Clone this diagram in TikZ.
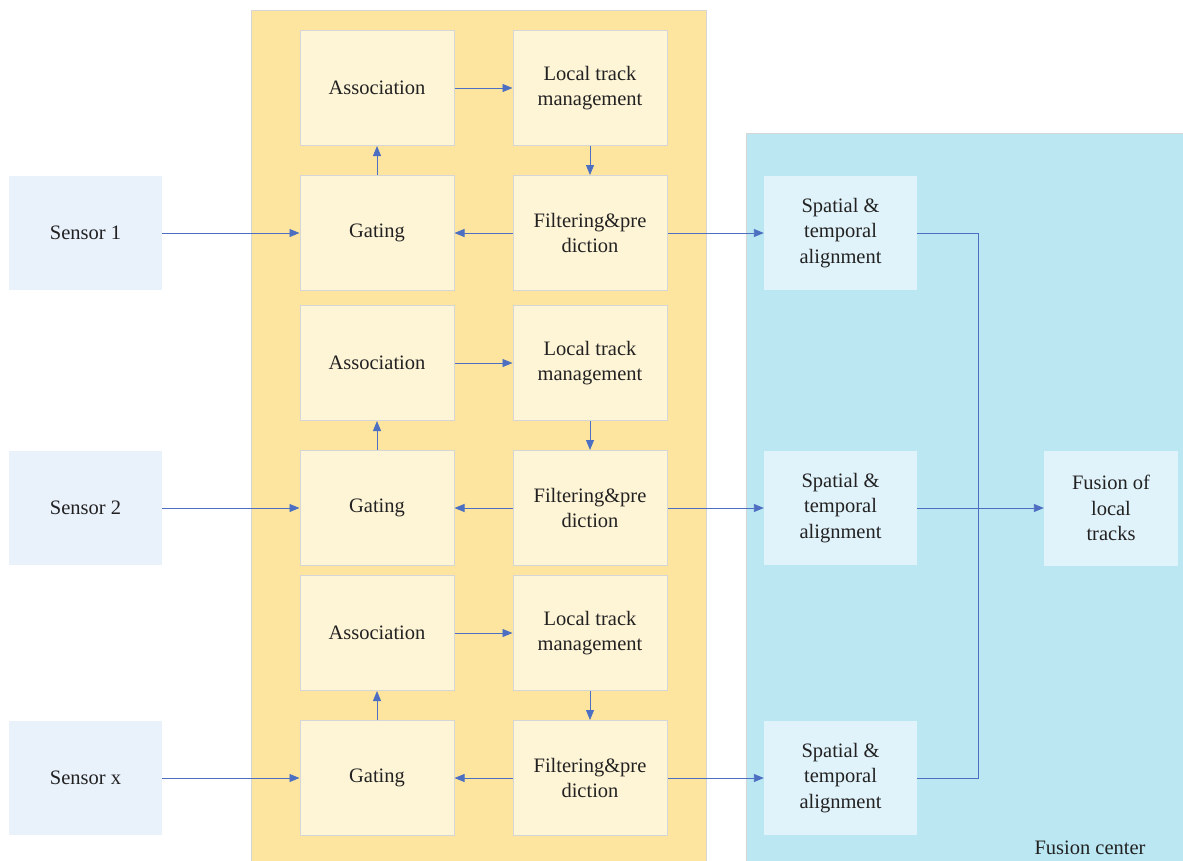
\documentclass[tikz,border=0pt]{standalone}
\usepackage{fontspec}
\setmainfont{Liberation Serif}
\usetikzlibrary{arrows.meta}
\definecolor{panelY}{HTML}{FDE59F}
\definecolor{panelB}{HTML}{BAE7F2}
\definecolor{boxY}{HTML}{FEF4D6}
\definecolor{boxB}{HTML}{E1F3FA}
\definecolor{boxS}{HTML}{E9F1FB}
\definecolor{edge}{HTML}{D6D6D6}
\definecolor{flow}{HTML}{4C6FC2}
\definecolor{ink}{HTML}{222222}
\begin{document}
\begin{tikzpicture}[x=1pt,y=-1pt,
  every node/.style={font=\fontsize{20.5}{25.5}\selectfont, text=ink, align=center, inner sep=0pt},
  panel/.style={draw=edge, line width=1pt},
  ybox/.style={draw=edge, line width=1pt, fill=boxY, minimum width=154pt, minimum height=115pt},
  bbox/.style={fill=boxB, minimum width=153pt, minimum height=114pt},
  sbox/.style={fill=boxS, minimum width=153pt, minimum height=114pt},
  link/.style={draw=flow, line width=0.9pt, -{Triangle[length=10pt,width=8pt]}},
  wire/.style={draw=flow, line width=0.9pt}]
\useasboundingbox (0,0) rectangle (1183,860);
% background panels
\draw[panel, fill=panelY] (251,10) rectangle (706,866);
\draw[panel, fill=panelB] (746,133) rectangle (1190,866);
% sensors
\node[sbox] (s1) at (85.5,233) {Sensor 1};
\node[sbox] (s2) at (85.5,508) {Sensor 2};
\node[sbox] (s3) at (85.5,778) {Sensor x};
% local tracker blocks
\node[ybox] (a1) at (377,88) {Association};
\node[ybox] (l1) at (590,88) {Local track\\management};
\node[ybox] (g1) at (377,233) {Gating};
\node[ybox] (f1) at (590,233) {Filtering\&pre\\diction};
\node[ybox] (a2) at (377,363) {Association};
\node[ybox] (l2) at (590,363) {Local track\\management};
\node[ybox] (g2) at (377,508) {Gating};
\node[ybox] (f2) at (590,508) {Filtering\&pre\\diction};
\node[ybox] (a3) at (377,633) {Association};
\node[ybox] (l3) at (590,633) {Local track\\management};
\node[ybox] (g3) at (377,778) {Gating};
\node[ybox] (f3) at (590,778) {Filtering\&pre\\diction};
% fusion center blocks
\node[bbox] (t1) at (840.5,233) {Spatial \&\\temporal\\alignment};
\node[bbox] (t2) at (840.5,508) {Spatial \&\\temporal\\alignment};
\node[bbox] (t3) at (840.5,778) {Spatial \&\\temporal\\alignment};
\node[bbox, minimum width=134pt, minimum height=115pt] (fu) at (1111,508) {Fusion of\\local\\tracks};
\node (fc) at (1090,848) {Fusion center};
% connectors
\foreach \i in {1,2,3}{
  \draw[link] (s\i) -- (g\i);
  \draw[link] (g\i) -- (a\i);
  \draw[link] (a\i) -- (l\i);
  \draw[link] (l\i) -- (f\i);
  \draw[link] (f\i) -- (g\i);
  \draw[link] (f\i) -- (t\i);
}
\coordinate (m1) at (978,233);
\coordinate (m3) at (978,778);
\draw[wire] (t1.east) -- (m1) -- (m3) -- (t3.east);
\draw[link] (t2) -- (fu);
\end{tikzpicture}
\end{document}
